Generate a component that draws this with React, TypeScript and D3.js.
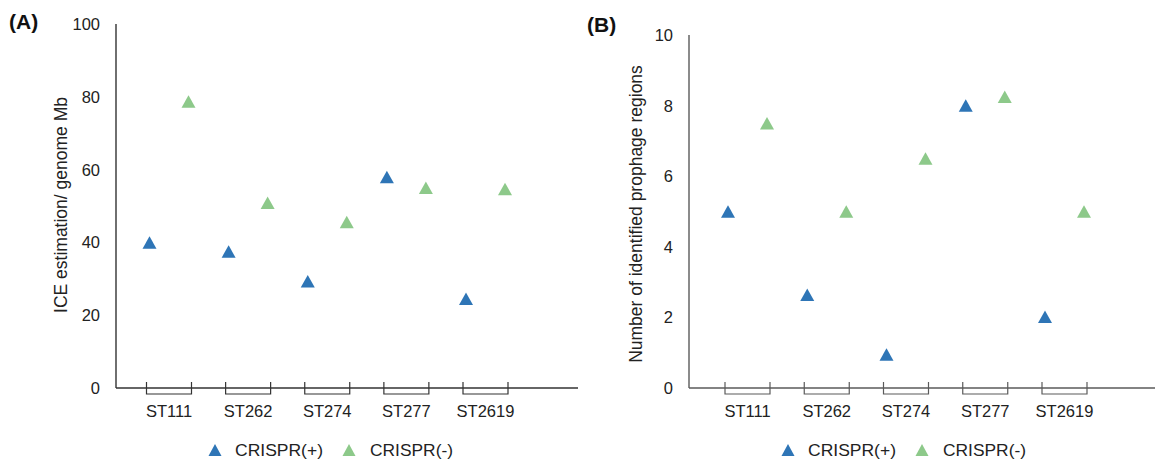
import React from "react";
import * as d3 from "d3";

const categories = ["ST111", "ST262", "ST274", "ST277", "ST2619"];
const iceCrisprPos = [40, 37.5, 29.3, 58, 24.5];
const iceCrisprNeg = [78.7, 50.9, 45.6, 55, 54.7];
const prophageCrisprPos = [5, 2.64, 0.95, 8, 2.02];
const prophageCrisprNeg = [7.5, 5, 6.5, 8.25, 5];
const iceTicks = [0, 20, 40, 60, 80, 100];
const prophageTicks = [0, 2, 4, 6, 8, 10];
const seriesNames = ["CRISPR(+)", "CRISPR(-)"];
const colors = ["#2E75B6", "#8DC98A"];

const FONT = "'Liberation Sans', Arial, Helvetica, sans-serif";
const TEXT = "#222";

function tri(cx: number, cy: number, w: number, h: number) {
  const p = d3.path();
  p.moveTo(cx, cy - h / 2);
  p.lineTo(cx + w / 2, cy + h / 2);
  p.lineTo(cx - w / 2, cy + h / 2);
  p.closePath();
  return p.toString();
}

type PanelProps = {
  label: string;
  labelX: number;
  labelY: number;
  axisX: number;
  axisRight: number;
  yTop: number;
  yBottom: number;
  yMax: number;
  ticks: number[];
  pos: number[];
  neg: number[];
  firstCenter: number;
  lastCenter: number;
  title: string;
  titleX: number;
  titleY: number;
  axisColor: string;
  legendX: number;
};

function Panel(p: PanelProps) {
  const y = d3.scaleLinear().domain([0, p.yMax]).range([p.yBottom, p.yTop]);
  const x = d3.scalePoint<string>().domain(categories).range([p.firstCenter, p.lastCenter]);
  const half = 19.5;
  const br = 22.5;
  const series = [p.pos, p.neg];
  return (
    <g>
      <text x={p.labelX} y={p.labelY} fontFamily={FONT} fontWeight="bold" fontSize={21} fill="#111">
        {p.label}
      </text>
      <line x1={p.axisX} x2={p.axisX} y1={y(p.yMax)} y2={y(0)} stroke={p.axisColor} strokeWidth={1.4} />
      <line x1={p.axisX} x2={p.axisRight} y1={y(0)} y2={y(0)} stroke={p.axisColor} strokeWidth={1.4} />
      {p.ticks.map((t) => (
        <text key={t} x={p.axisX - 16} y={y(t)} dy="0.36em" textAnchor="end" fontFamily={FONT} fontSize={16.5} fill={TEXT}>
          {t}
        </text>
      ))}
      <text
        transform={`translate(${p.titleX},${p.titleY}) rotate(-90)`}
        textAnchor="middle"
        fontFamily={FONT}
        fontSize={17.5}
        fill={TEXT}
      >
        {p.title}
      </text>
      {categories.map((c) => {
        const cx = x(c)!;
        const y0 = y(0);
        return (
          <g key={c}>
            <path
              d={`M${cx - br},${y0 - 6}V${y0 + 6}H${cx + br}V${y0 - 6}`}
              fill="none"
              stroke={p.axisColor}
              strokeWidth={1.2}
            />
            <text x={cx} y={y0 + 29} textAnchor="middle" fontFamily={FONT} fontSize={16.5} fill={TEXT}>
              {c}
            </text>
          </g>
        );
      })}
      {series.map((vals, si) =>
        vals.map((v, i) => {
          const cx = x(categories[i])! + (si === 0 ? -half : half);
          return <path key={`${si}-${i}`} d={tri(cx, y(v), 14, 12.5)} fill={colors[si]} />;
        })
      )}
      <path d={tri(p.legendX, 450, 13, 12)} fill={colors[0]} />
      <text x={p.legendX + 20} y={456} fontFamily={FONT} fontSize={17} fill={TEXT} textLength={88} lengthAdjust="spacingAndGlyphs">
        {seriesNames[0]}
      </text>
      <path d={tri(p.legendX + 134, 450, 13, 12)} fill={colors[1]} />
      <text x={p.legendX + 155} y={456} fontFamily={FONT} fontSize={17} fill={TEXT} textLength={83} lengthAdjust="spacingAndGlyphs">
        {seriesNames[1]}
      </text>
    </g>
  );
}

export default function App() {
  return (
    <svg width={1157} height={459} style={{ position: "absolute", left: 0, top: 0, background: "#fff" }}>
      <rect width={1157} height={459} fill="#fff" />
      <Panel
        label="(A)"
        labelX={9}
        labelY={29}
        axisX={116}
        axisRight={578}
        yTop={24}
        yBottom={388}
        yMax={100}
        ticks={iceTicks}
        pos={iceCrisprPos}
        neg={iceCrisprNeg}
        firstCenter={169}
        lastCenter={485.5}
        title="ICE estimation/ genome Mb"
        titleX={67}
        titleY={205}
        axisColor="#333"
        legendX={215}
      />
      <Panel
        label="(B)"
        labelX={587}
        labelY={32}
        axisX={689}
        axisRight={1155}
        yTop={35}
        yBottom={388}
        yMax={10}
        ticks={prophageTicks}
        pos={prophageCrisprPos}
        neg={prophageCrisprNeg}
        firstCenter={747.5}
        lastCenter={1064.5}
        title="Number of identified prophage regions"
        titleX={642}
        titleY={214}
        axisColor="#5a5a5a"
        legendX={788}
      />
    </svg>
  );
}
